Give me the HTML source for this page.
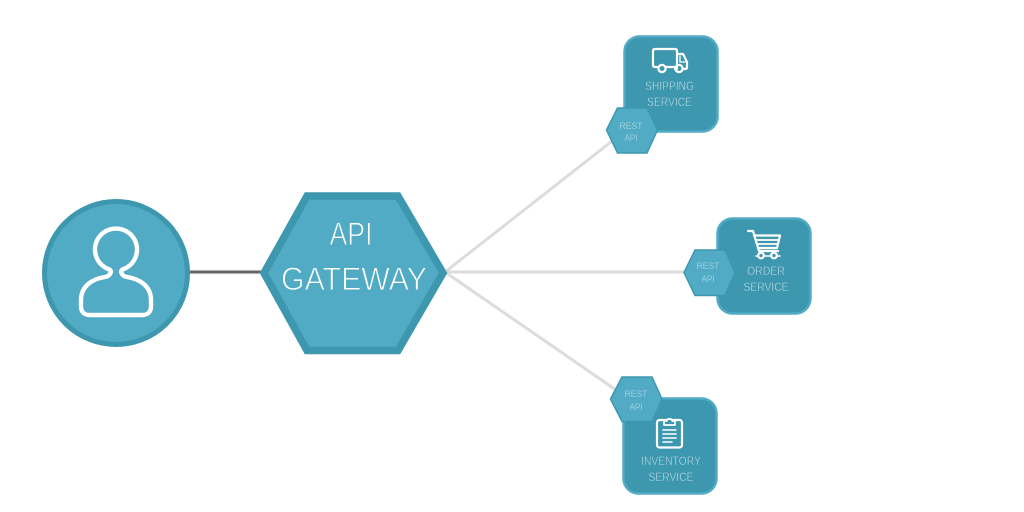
<!DOCTYPE html>
<html><head><meta charset="utf-8"><style>
html,body{margin:0;padding:0;background:#fff}
svg{display:block}
text{font-family:"Liberation Sans",sans-serif;text-anchor:middle}
.big{font-size:32px;fill:#fff;stroke:#52abc5;stroke-width:.95px}
.lb{font-size:12px;fill:#d8ecf1;stroke:#3d97ae;stroke-width:.45px}
.rs{font-size:9.5px;fill:#cfe7ee;stroke:#52abc5;stroke-width:.3px}
.ic{fill:none;stroke:#fff;stroke-linejoin:round;stroke-linecap:round}
</style></head><body>
<svg width="1024" height="512" viewBox="0 0 1024 512" xmlns="http://www.w3.org/2000/svg">
<rect width="1024" height="512" fill="#fff"/>
<g stroke="#dcdcdc" stroke-width="3" fill="none">
<line x1="445" y1="272" x2="616" y2="138"/>
<line x1="445" y1="272" x2="686" y2="272"/>
<line x1="445" y1="272" x2="616" y2="390"/>
</g>
<line x1="188" y1="272" x2="263" y2="272" stroke="#666" stroke-width="3"/>

<circle cx="116" cy="273" r="71.5" fill="#52abc5" stroke="#3d97ae" stroke-width="5"/>
<path class="ic" stroke-width="4.4" d="M109.500 269.500A21 21 0 1 1 122.500 269.500Q120.500 271 121.500 273Q123 276.500 127 277C141 279 151 287 151 300V306Q151 315 142 315H90Q81 315 81 306V300C81 287 91 279 105 277Q109 276.500 110.500 273Q111.500 271 109.500 269.500Z"/>

<polygon points="264,273 307,196 398,196 443,273 398,350.500 307,350.500" fill="#52abc5" stroke="#3d97ae" stroke-width="7.500"/>
<text class="big" x="351" y="245" textLength="43" lengthAdjust="spacingAndGlyphs">API</text>
<text class="big" x="354" y="290" textLength="146" lengthAdjust="spacingAndGlyphs">GATEWAY</text>

<rect x="624.500" y="36.500" width="93" height="95" rx="15" fill="#3d97ae" stroke="#52abc5" stroke-width="2.500"/>
<rect x="717.500" y="218.500" width="93" height="95" rx="15" fill="#3d97ae" stroke="#52abc5" stroke-width="2.500"/>
<rect x="623.500" y="398.500" width="93" height="95" rx="15" fill="#3d97ae" stroke="#52abc5" stroke-width="2.500"/>

<polygon points="606.500,130 617.500,108 647,108 657.500,130 647,153 617.500,153" fill="#52abc5" stroke="#3d97ae" stroke-width="1.500"/>
<polygon points="684,272.500 695,250 725,250 735,272.500 725,295.500 695,295.500" fill="#52abc5" stroke="#3d97ae" stroke-width="1.500"/>
<polygon points="610.500,399 622,377 652,377 662,399 652,421.500 622,421.500" fill="#52abc5" stroke="#3d97ae" stroke-width="1.500"/>

<!-- truck -->
<g class="ic" stroke-width="2.200">
<path d="M657 67H655Q653 67 653 65V51Q653 49 655 49H675Q677 49 677 51V67H666"/>
<path d="M677 54H683L687 62V67Q687 69 685 69H683M675 69H677"/>
<path d="M680 56V62H685" stroke-width="1.300"/>
<circle cx="662" cy="68.500" r="3.600"/><circle cx="679" cy="68.500" r="3.600"/>
</g>
<!-- cart -->
<g class="ic" stroke-width="2.200">
<path d="M748 231H753L759 251H778"/>
<path d="M754 235.500H780L777 248H758"/>
<path d="M756 240H779M757 244H778" stroke-width="1.800"/>
<path d="M756 256H780" stroke-width="1.500"/>
<circle cx="761" cy="255.500" r="2.800" fill="#3d97ae"/><circle cx="774" cy="255.500" r="2.800" fill="#3d97ae"/>
</g>
<!-- clipboard -->
<g class="ic" stroke-width="2.200">
<rect x="657" y="420" width="25" height="27.500" rx="2.500"/>
<path d="M664 425H675V421H672.500A3.200 3.200 0 0 0 666.500 421H664Z" fill="#3d97ae" stroke-width="1.800"/>
<path d="M663 430H676M663 434H676M663 438H676M663 442H672" stroke-width="1.600"/>
</g>

<text class="lb" x="669.500" y="90" textLength="49" lengthAdjust="spacingAndGlyphs">SHIPPING</text>
<text class="lb" x="669.500" y="106" textLength="45" lengthAdjust="spacingAndGlyphs">SERVICE</text>
<text class="lb" x="766" y="275" textLength="38" lengthAdjust="spacingAndGlyphs">ORDER</text>
<text class="lb" x="766" y="291" textLength="45" lengthAdjust="spacingAndGlyphs">SERVICE</text>
<text class="lb" x="671" y="465" textLength="60" lengthAdjust="spacingAndGlyphs">INVENTORY</text>
<text class="lb" x="671" y="481" textLength="45" lengthAdjust="spacingAndGlyphs">SERVICE</text>

<text class="rs" x="631" y="129" textLength="23" lengthAdjust="spacingAndGlyphs">REST</text>
<text class="rs" x="631" y="141" textLength="13" lengthAdjust="spacingAndGlyphs">API</text>
<text class="rs" x="708" y="269" textLength="23" lengthAdjust="spacingAndGlyphs">REST</text>
<text class="rs" x="708" y="282" textLength="13" lengthAdjust="spacingAndGlyphs">API</text>
<text class="rs" x="636" y="397" textLength="23" lengthAdjust="spacingAndGlyphs">REST</text>
<text class="rs" x="636" y="410" textLength="13" lengthAdjust="spacingAndGlyphs">API</text>
</svg>
</body></html>
